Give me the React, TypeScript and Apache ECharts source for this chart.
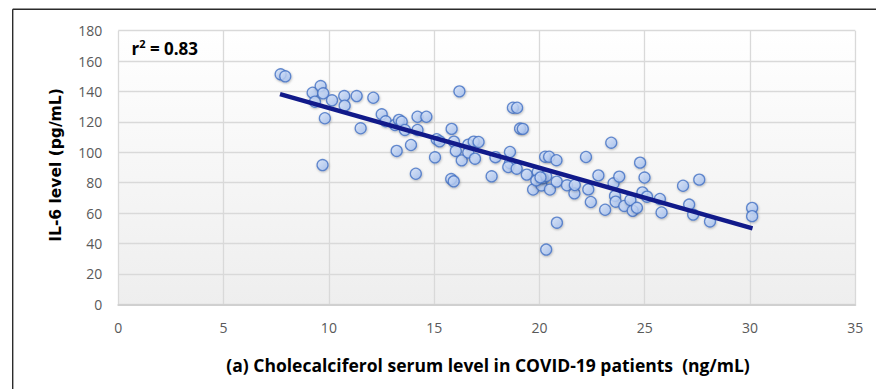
import React, { useEffect, useRef } from "react";
import * as echarts from "echarts";

const vitaminD: number[] = [
  7.71, 7.93, 9.23, 9.34, 9.61, 9.73, 9.81, 9.70, 10.15, 10.73, 10.75, 11.32, 11.51,
  12.11, 12.51, 12.70, 13.14, 13.33, 13.46, 13.61, 13.22, 13.90, 14.13, 14.21, 14.63,
  14.21, 15.04, 15.12, 15.26, 16.20, 15.83, 15.94, 16.03, 15.81, 15.93, 16.31, 16.62,
  16.62, 16.94, 16.88, 17.11, 17.73, 17.91, 18.60, 18.60, 18.52, 18.74, 18.94, 18.92,
  19.08, 19.21, 19.40, 19.70, 19.92, 20.10, 20.18, 20.27, 20.46, 20.32, 20.50, 20.81,
  20.82, 20.83, 20.32, 21.31, 21.66, 21.68, 22.21, 22.32, 22.44, 22.80, 23.12, 23.41,
  23.52, 23.79, 23.59, 23.62, 24.03, 24.32, 24.43, 24.63, 24.78, 24.99, 24.89, 25.11,
  25.72, 25.80, 26.82, 27.11, 27.30, 27.59, 28.10, 30.10, 30.10, 19.85, 20.05,
];

const il6: number[] = [
  151.3, 150.0, 139.2, 133.3, 143.6, 138.8, 122.4, 91.6, 134.2, 137.0, 130.7, 137.0, 115.8,
  135.9, 125.0, 120.4, 118.0, 121.3, 120.1, 114.7, 100.9, 104.8, 85.9, 123.4, 123.4,
  114.7, 96.7, 108.6, 107.2, 140.1, 115.4, 107.0, 100.9, 82.4, 80.9, 94.7, 105.0,
  99.8, 95.8, 107.0, 106.8, 84.2, 96.8, 100.2, 92.9, 90.3, 129.3, 129.3, 89.2,
  115.6, 115.4, 85.3, 75.5, 87.0, 78.2, 82.9, 97.1, 97.1, 84.3, 75.5, 94.8,
  80.7, 53.7, 36.0, 78.3, 73.0, 78.5, 96.9, 75.6, 67.3, 84.8, 62.2, 106.3,
  79.6, 84.0, 71.3, 67.5, 64.7, 68.6, 61.5, 63.5, 93.2, 83.4, 73.6, 70.8,
  69.3, 60.4, 78.0, 65.6, 59.0, 82.0, 54.5, 63.4, 58.0, 81.5, 83.5,
];

const trendX: number[] = [7.68, 30.12];
const trendY: number[] = [138.3, 50.0];

const xTicks = { min: 0, max: 35, interval: 5 };
const yTicks = { min: 0, max: 180, interval: 20 };

const xTitle = "(a) Cholecalciferol serum level in COVID-19 patients  (ng/mL)";
const yTitle = "IL-6 level (pg/mL)";
const r2Value = "0.83";

export default function App() {
  const ref = useRef<HTMLDivElement>(null);

  useEffect(() => {
    if (!ref.current) return;
    const chart = echarts.init(ref.current, undefined, { renderer: "svg" });
    const points = vitaminD.map((x, i) => [x, il6[i]]);
    const trend = trendX.map((x, i) => [x, trendY[i]]);
    const tickFont = "'Open Sans', sans-serif";

    chart.setOption({
      animation: false,
      backgroundColor: "#ffffff",
      grid: {
        left: 118.3,
        right: 20.7,
        top: 30.7,
        bottom: 84.7,
        show: true,
        borderWidth: 0,
        backgroundColor: new echarts.graphic.LinearGradient(0, 0, 0, 1, [
          { offset: 0, color: "#ffffff" },
          { offset: 1, color: "#eeeeee" },
        ]),
      },
      xAxis: {
        type: "value",
        min: xTicks.min,
        max: xTicks.max,
        interval: xTicks.interval,
        axisLine: { show: true, lineStyle: { color: "#d0d0d0", width: 2 } },
        axisTick: { show: false },
        axisLabel: { color: "#595959", fontSize: 14, fontFamily: tickFont, margin: 16 },
        splitLine: { show: true, lineStyle: { color: "#d9d9d9", width: 1.3 } },
      },
      yAxis: {
        type: "value",
        min: yTicks.min,
        max: yTicks.max,
        interval: yTicks.interval,
        axisLine: { show: false },
        axisTick: { show: false },
        axisLabel: { color: "#595959", fontSize: 14, fontFamily: tickFont, margin: 16 },
        splitLine: { show: true, lineStyle: { color: "#d9d9d9", width: 1.3 } },
      },
      series: [
        {
          type: "scatter",
          data: points,
          symbol: "circle",
          symbolSize: 11,
          z: 2,
          itemStyle: {
            color: new echarts.graphic.LinearGradient(0, 0, 1, 1, [
              { offset: 0, color: "#dce8fd" },
              { offset: 1, color: "#9ebcf0" },
            ]),
            borderColor: "#4270c4",
            borderWidth: 1.3,
            shadowBlur: 2,
            shadowColor: "rgba(0,0,0,0.3)",
            shadowOffsetX: 0.5,
            shadowOffsetY: 1,
          },
        },
        {
          type: "line",
          data: trend,
          symbol: "none",
          z: 3,
          lineStyle: { color: "#111a8a", width: 4.5 },
        },
      ],
      graphic: [
        {
          type: "line",
          shape: { x1: 12.7, y1: 9.3, x2: 880, y2: 9.3 },
          style: { stroke: "#2b2b2b", lineWidth: 1.4 },
        },
        {
          type: "line",
          shape: { x1: 12.7, y1: 9.3, x2: 12.7, y2: 395 },
          style: { stroke: "#2b2b2b", lineWidth: 1.4 },
        },
        {
          type: "text",
          x: 131.5,
          y: 48,
          z: 10,
          style: {
            text: "{m|r}{s|2}{m| = " + r2Value + "}",
            verticalAlign: "middle",
            rich: {
              m: { fontSize: 17, fontWeight: "bold", fontFamily: "'Open Sans', sans-serif", fill: "#000" },
              s: { fontSize: 11, fontWeight: "bold", fontFamily: "'Open Sans', sans-serif", fill: "#000", padding: [0, 0, 9, 0] },
            },
          },
        },
        {
          type: "text",
          x: 488,
          y: 365,
          style: {
            text: xTitle,
            align: "center",
            verticalAlign: "middle",
            fontSize: 17.5,
            fontWeight: "bold",
            fontFamily: "'Open Sans', sans-serif",
            fill: "#000",
          },
        },
        {
          type: "text",
          x: 56,
          y: 165,
          rotation: Math.PI / 2,
          style: {
            text: yTitle,
            align: "center",
            verticalAlign: "middle",
            fontSize: 15.5,
            fontWeight: "bold",
            fontFamily: "'DejaVu Sans', sans-serif",
            fill: "#000",
          },
        },
      ],
    });

    return () => chart.dispose();
  }, []);

  return (
    <div
      ref={ref}
      style={{ position: "fixed", left: 0, top: 0, width: 876, height: 389 }}
    />
  );
}
